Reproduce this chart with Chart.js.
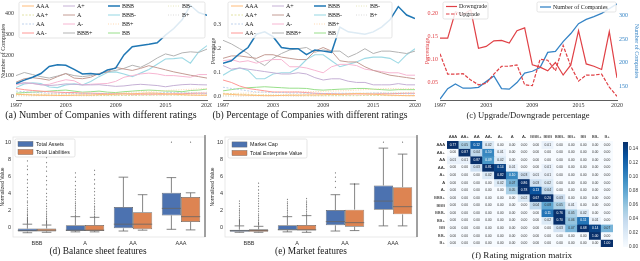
<!DOCTYPE html>
<html>
<head>
<meta charset="utf-8">
<script src="https://cdn.jsdelivr.net/npm/chart.js@4.4.1/dist/chart.umd.min.js"></script>
<style>
  body { margin: 0; width: 640px; height: 261px; position: relative; overflow: hidden; background: #fff; }
  canvas { position: absolute; }
  .cap { position: absolute; transform: translateX(-50%); white-space: nowrap; font-family: 'Liberation Serif', serif; color: #1a1a1a; line-height: 1; }
</style>
</head>
<body>
<canvas id="chartA" width="212" height="110" style="left:0;top:0"></canvas>
<canvas id="chartB" width="212" height="110" style="left:210px;top:0"></canvas>
<canvas id="chartC" width="216" height="110" style="left:424px;top:0"></canvas>
<canvas id="chartD" width="212" height="116" style="left:0;top:132px"></canvas>
<canvas id="chartE" width="212" height="116" style="left:210px;top:132px"></canvas>
<canvas id="chartF" width="192" height="122" style="left:428px;top:128px"></canvas>
<canvas id="chartG" width="22" height="122" style="left:618px;top:128px"></canvas>
<div class="cap" style="left:101px;top:110px;font-size:10px">(a) Number of Companies with different ratings</div>
<div class="cap" style="left:310px;top:110px;font-size:9.6px">(b) Percentage of Companies with different ratings</div>
<div class="cap" style="left:528px;top:110.5px;font-size:8.6px">(c) Upgrade/Downgrade percentage</div>
<div class="cap" style="left:98px;top:247px;font-size:9.4px">(d) Balance sheet features</div>
<div class="cap" style="left:311px;top:247px;font-size:9.4px">(e) Market features</div>
<div class="cap" style="left:522px;top:251px;font-size:9.2px">(f) Rating migration matrix</div>
<script>
// ---- data ----
const years = [1997,1998,1999,2000,2001,2002,2003,2004,2005,2006,2007,2008,2009,2010,2011,2012,2013,2014,2015,2016,2017,2018,2019,2020];
const tickYears = [1997,2003,2009,2015,2020];
const ratings = ['AAA','AA+','AA','AA-','A+','A','A-','BBB+','BBB','BBB-','BB+','BB','BB-','B+'];

// (a) number of companies per rating
const cntAAA  = [10,8,6,5,5,4,4,5,6,6,8,8,10,12,12,14,16,15,12,10,8,6,5,5];
const cntAAp  = [12,10,8,8,6,6,5,5,5,4,4,4,4,4,4,5,5,6,6,6,5,5,5,5];
const cntAA   = [25,22,20,18,15,15,14,14,12,12,12,12,12,14,14,15,15,16,18,18,17,16,15,14];
const cntAAm  = [38,32,28,25,22,20,18,18,15,15,14,12,12,12,10,10,10,10,10,12,12,14,15,15];
const cntAp   = [60,65,62,56,52,55,60,58,55,55,56,52,48,50,55,58,55,52,46,52,56,58,56,55];
const cntA    = [68,85,90,85,78,95,110,88,85,92,110,118,140,132,125,135,148,138,128,118,110,102,95,88];
const cntAm   = [55,65,62,55,58,70,80,75,55,58,60,62,72,92,100,108,112,108,100,100,96,92,105,105];
const cntBBBp = [100,115,105,95,88,98,110,100,95,100,110,118,125,135,150,140,160,185,205,195,210,215,212,228];
const cntBBB  = [62,78,92,110,144,152,150,130,108,110,105,127,136,200,240,246,252,259,296,328,370,440,405,392];
const cntBBBm = [42,60,65,62,45,42,55,60,55,72,95,115,118,108,95,112,130,155,180,182,186,160,215,245];
const cntBBp  = [8,10,10,12,12,15,15,14,12,12,14,15,15,18,20,22,24,25,28,30,32,34,36,38];
const cntBB   = [15,18,20,22,25,28,30,25,20,22,25,20,18,22,25,28,30,28,25,25,22,28,30,35];
const cntBBm  = [5,5,6,6,6,8,8,8,6,6,8,8,8,10,10,12,12,14,15,16,16,18,18,20];
const cntBp   = [2,2,2,3,3,3,3,3,2,2,3,3,3,4,4,5,5,6,6,6,7,7,8,8];

// (b) percentage of companies per rating
const pctAAA  = [0.012,0.010,0.008,0.007,0.006,0.005,0.005,0.006,0.007,0.007,0.008,0.008,0.009,0.010,0.010,0.012,0.014,0.013,0.011,0.009,0.007,0.006,0.005,0.005];
const pctAAp  = [0.015,0.013,0.011,0.010,0.008,0.007,0.006,0.006,0.006,0.005,0.005,0.005,0.005,0.005,0.005,0.005,0.005,0.006,0.006,0.006,0.005,0.005,0.005,0.005];
const pctAA   = [0.040,0.035,0.030,0.025,0.020,0.020,0.018,0.018,0.016,0.016,0.015,0.015,0.014,0.015,0.015,0.015,0.015,0.015,0.016,0.016,0.015,0.015,0.014,0.013];
const pctAAm  = [0.070,0.060,0.045,0.035,0.030,0.025,0.020,0.020,0.020,0.020,0.018,0.015,0.014,0.013,0.012,0.012,0.012,0.012,0.012,0.013,0.013,0.014,0.015,0.015];
const pctAp   = [0.130,0.115,0.120,0.115,0.110,0.105,0.100,0.095,0.095,0.100,0.095,0.080,0.070,0.075,0.075,0.065,0.060,0.060,0.050,0.050,0.050,0.055,0.050,0.050];
const pctA    = [0.160,0.170,0.170,0.165,0.160,0.175,0.175,0.165,0.160,0.155,0.155,0.190,0.205,0.190,0.150,0.145,0.145,0.125,0.110,0.100,0.090,0.085,0.080,0.075];
const pctAm   = [0.150,0.155,0.145,0.150,0.140,0.150,0.155,0.155,0.125,0.125,0.120,0.110,0.100,0.125,0.135,0.135,0.130,0.115,0.110,0.105,0.100,0.100,0.090,0.090];
const pctBBBp = [0.235,0.220,0.200,0.180,0.150,0.130,0.160,0.180,0.195,0.200,0.205,0.185,0.195,0.190,0.190,0.165,0.180,0.200,0.180,0.190,0.190,0.185,0.180,0.190];
const pctBBB  = [0.140,0.150,0.180,0.205,0.260,0.270,0.250,0.205,0.200,0.200,0.175,0.195,0.190,0.185,0.290,0.270,0.265,0.260,0.270,0.290,0.320,0.375,0.340,0.325];
const pctBBBm = [0.090,0.110,0.120,0.110,0.075,0.075,0.095,0.100,0.100,0.120,0.155,0.175,0.175,0.150,0.125,0.135,0.145,0.160,0.165,0.165,0.160,0.140,0.175,0.200];
const pctBBp  = [0.012,0.014,0.015,0.016,0.018,0.020,0.020,0.020,0.020,0.022,0.022,0.022,0.023,0.024,0.025,0.026,0.028,0.030,0.032,0.034,0.035,0.034,0.034,0.035];
const pctBB   = [0.025,0.030,0.035,0.038,0.040,0.042,0.040,0.038,0.036,0.036,0.035,0.030,0.028,0.030,0.032,0.033,0.035,0.035,0.032,0.030,0.028,0.030,0.030,0.030];
const pctBBm  = [0.006,0.007,0.008,0.008,0.008,0.010,0.010,0.010,0.010,0.010,0.012,0.012,0.012,0.013,0.013,0.014,0.015,0.015,0.016,0.017,0.017,0.018,0.018,0.020];
const pctBp   = [0.003,0.003,0.003,0.004,0.004,0.004,0.004,0.004,0.003,0.003,0.004,0.004,0.004,0.005,0.005,0.006,0.006,0.006,0.007,0.007,0.007,0.008,0.008,0.008];

const countSeries = [cntAAA,cntAAp,cntAA,cntAAm,cntAp,cntA,cntAm,cntBBBp,cntBBB,cntBBBm,cntBBp,cntBB,cntBBm,cntBp];
const pctSeries = [pctAAA,pctAAp,pctAA,pctAAm,pctAp,pctA,pctAm,pctBBBp,pctBBB,pctBBBm,pctBBp,pctBB,pctBBm,pctBp];

// (c) upgrade / downgrade
const downgrade = [0.146,0.146,0.203,0.197,0.207,0.124,0.128,0.140,0.141,0.135,0.162,0.168,0.088,0.083,0.075,0.093,0.066,0.088,0.162,0.090,0.085,0.078,0.160,0.060];
const upgrade   = [0.112,0.068,0.068,0.069,0.055,0.045,0.048,0.068,0.085,0.085,0.088,0.045,0.043,0.100,0.098,0.075,0.130,0.085,0.053,0.066,0.066,0.068,0.040,0.020];
const nCompanies = [123,145,155,146,146,148,160,172,145,144,158,178,182,190,222,224,245,262,283,292,298,305,315,325];

// (d)/(e) box plots: quartiles, medians, whiskers, fliers
const boxCats = ['BBB','A','AA','AAA'];
const assetsQ1 = [-0.47,-0.39,-0.08,1.43];
const assetsQ3 = [-0.12,0.27,2.40,4.07];
const assetsMed = [-0.35,-0.30,0.40,2.25];
const assetsLo = [-0.60,-0.50,-0.40,-0.20];
const assetsHi = [0.40,1.28,5.90,5.85];
const assetsOut = [[0.5,0.6,0.7,0.8,0.9,1.0,1.1,1.2,1.4,1.5,1.7,1.9,2.1,2.3,2.6,2.9,3.1,3.5,3.9,4.3,4.7,5.2,5.6,6.2,6.8,7.2,7.8],
                   [1.4,1.6,1.8,2.0,2.2,2.4,2.6,2.8,3.0,3.3,3.6,3.9,4.2,4.5,4.9,5.4,5.9,6.4], [], [10.0]];
const liabQ1 = [-0.45,-0.40,-0.20,0.66];
const liabQ3 = [-0.10,0.30,1.80,3.57];
const liabMed = [-0.30,-0.30,0.40,1.28];
const liabLo = [-0.55,-0.50,-0.30,-0.27];
const liabHi = [0.30,1.20,3.85,4.07];
const liabOut = [[0.4,0.5,0.6,0.7,0.8,1.0,1.1,1.3,1.5,1.7,1.9,2.2,2.5,2.8,3.2,3.6,4.0,4.5,5.0,5.5,6.0,6.6,7.1,7.6,8.2],
                 [1.3,1.5,1.7,1.9,2.1,2.3,2.5,2.8,3.1,3.4,3.8,4.2,4.6,5.1,5.6,6.2,6.7], [], [10.0]];
const mcapQ1 = [-0.50,-0.30,0.27,2.09];
const mcapQ3 = [-0.25,0.27,2.05,4.93];
const mcapMed = [-0.35,-0.25,0.70,3.10];
const mcapLo = [-0.55,-0.50,-0.40,0.20];
const mcapHi = [0.20,1.28,3.85,9.30];
const mcapOut = [[0.3,0.4,0.5,0.6,0.7,0.8,0.9,1.0,1.2,1.4,1.6,1.8,2.0,2.2,2.5,2.8,3.1],
                 [1.4,1.6,1.8,2.0,2.2,2.4,2.6,2.8,3.0,3.3], [4.7,5.4,5.9,6.4], [10.0]];
const tevQ1 = [-0.50,-0.35,0.10,1.55];
const tevQ3 = [-0.20,0.30,2.10,4.73];
const tevMed = [-0.35,-0.25,0.58,2.45];
const tevLo = [-0.55,-0.55,-0.35,0.20];
const tevHi = [0.15,1.40,5.10,8.60];
const tevOut = [[0.3,0.4,0.5,0.6,0.8,1.0,1.2,1.4,1.6,1.9,2.2,2.5,2.8,3.1,3.4,3.7,4.0,4.4,4.8,5.2],
                [1.5,1.7,1.9,2.1,2.3,2.5,2.7,2.9,3.1,3.4], [5.1], [10.0]];

// (f) rating migration matrix (rows: from, cols: to)
const migration = [
  [0.77,0.05,0.12,0.02,0.00,0.00,0.00,0.00,0.01,0.00,0.00,0.00,0.00,0.00],
  [0.00,0.87,0.04,0.10,0.01,0.00,0.00,0.00,0.00,0.00,0.00,0.00,0.00,0.00],
  [0.01,0.01,0.87,0.09,0.02,0.00,0.00,0.00,0.00,0.00,0.00,0.00,0.00,0.00],
  [0.00,0.00,0.03,0.81,0.14,0.01,0.00,0.00,0.01,0.00,0.00,0.00,0.00,0.00],
  [0.00,0.00,0.00,0.02,0.82,0.10,0.03,0.01,0.01,0.00,0.00,0.00,0.00,0.00],
  [0.00,0.00,0.00,0.00,0.02,0.07,0.86,0.03,0.02,0.00,0.00,0.00,0.00,0.00],
  [0.00,0.00,0.00,0.00,0.00,0.05,0.78,0.13,0.04,0.00,0.00,0.00,0.00,0.00],
  [0.00,0.00,0.00,0.00,0.00,0.00,0.02,0.67,0.20,0.03,0.00,0.00,0.00,0.00],
  [0.00,0.00,0.00,0.00,0.00,0.00,0.00,0.04,0.08,0.05,0.01,0.00,0.00,0.00],
  [0.00,0.00,0.00,0.00,0.00,0.00,0.00,0.00,0.11,0.76,0.05,0.02,0.00,0.00],
  [0.00,0.00,0.00,0.00,0.00,0.00,0.00,0.00,0.02,0.70,0.06,0.11,0.01,0.00],
  [0.00,0.00,0.00,0.00,0.00,0.00,0.00,0.00,0.00,0.03,0.07,0.68,0.14,0.07],
  [0.00,0.00,0.00,0.00,0.00,0.00,0.00,0.00,0.00,0.00,0.00,0.00,1.00,0.00],
  [0.00,0.00,0.00,0.00,0.00,0.00,0.00,0.00,0.00,0.00,0.00,0.00,0.00,1.00]
];
const cbMax = 0.15;
const cbTicks = [0,0.02,0.04,0.06,0.08,0.10,0.12,0.14];

// ---- styles ----
const SERIF = "'Liberation Serif', serif";
const SANS = "'Liberation Sans', 'DejaVu Sans', sans-serif";
const lineColors = ['#ffbb78','#dbdb8d','#aec7e8','#ff9896','#c5b0d5','#c49c94','#f7b6d2','#b3b3b3','#1f77b4','#9edae5','#ffcf9e','#98df8a','#e0e0a8','#d0d0d0'];
const lineWidths = [1,0.8,0.8,1,1,1,1,1,1.5,1.1,0.8,1,0.8,0.8];
const lineDashes = [[],[2,1.5],[2,1.5],[],[],[],[],[],[],[],[1,1.5],[],[1,1.5],[1,1.5]];
const red = '#e04146';
const blue = '#3584c6';
const blueStops = ['#f7fbff','#deebf7','#c6dbef','#9ecae1','#6baed6','#4292c6','#2171b5','#08519c','#08306b'];

Chart.defaults.font.family = SERIF;
Chart.defaults.font.size = 6;
Chart.defaults.color = '#333';
Chart.defaults.animation = false;
Chart.defaults.responsive = false;
Chart.defaults.plugins.legend.display = false;
Chart.defaults.plugins.tooltip.enabled = false;
Chart.defaults.elements.point.radius = 0;

const noGrid = { display: false, drawTicks: false };
function fixW(w) { return s => { s.width = w; s.paddingTop = 0; s.paddingBottom = 0; }; }
function fixH(h) { return s => { s.height = h; s.paddingLeft = 0; s.paddingRight = 0; }; }
function setTicks(list) { return s => { s.ticks = list.map(v => ({ value: v })); }; }
function xy(vals) { return years.map((yr, i) => ({ x: yr, y: vals[i] })); }

function blues(t) {
  t = Math.max(0, Math.min(1, t));
  const p = t * 8, i = Math.min(7, Math.floor(p)), f = p - i;
  const a = blueStops[i], b = blueStops[i + 1];
  const ch = k => Math.round(parseInt(a.substr(k, 2), 16) * (1 - f) + parseInt(b.substr(k, 2), 16) * f);
  return 'rgb(' + ch(1) + ',' + ch(3) + ',' + ch(5) + ')';
}

// legend drawn inside the plot, items placed by hand like matplotlib's ncol legend
const boxLegend = {
  id: 'boxLegend',
  afterDraw(chart, args, o) {
    const ctx = chart.ctx;
    ctx.save();
    (o.boxes || []).forEach(b => {
      ctx.fillStyle = 'rgba(255,255,255,0.85)';
      ctx.strokeStyle = '#d5d5d5';
      ctx.lineWidth = 0.6;
      ctx.beginPath();
      ctx.roundRect(b[0], b[1], b[2], b[3], 1.5);
      ctx.fill();
      ctx.stroke();
    });
    ctx.font = o.font;
    ctx.textBaseline = 'middle';
    (o.items || []).forEach(it => {
      const ds = chart.data.datasets[it.i];
      if (o.patch) {
        ctx.fillStyle = ds.backgroundColor;
        ctx.fillRect(it.x, it.y - 2.6, o.len, 5.2);
        ctx.strokeStyle = '#666';
        ctx.lineWidth = 0.4;
        ctx.strokeRect(it.x, it.y - 2.6, o.len, 5.2);
      } else {
        ctx.strokeStyle = ds.borderColor;
        ctx.lineWidth = ds.borderWidth;
        ctx.setLineDash(ds.borderDash || []);
        ctx.beginPath();
        ctx.moveTo(it.x, it.y);
        ctx.lineTo(it.x + o.len, it.y);
        ctx.stroke();
        ctx.setLineDash([]);
      }
      ctx.fillStyle = '#222';
      ctx.fillText(ds.label, it.x + o.len + o.gap, it.y + 0.3);
    });
    ctx.restore();
  }
};

// whiskers, medians and fliers on top of the floating-bar boxes
const boxExtras = {
  id: 'boxExtras',
  afterDatasetsDraw(chart) {
    const ctx = chart.ctx, ys = chart.scales.y;
    ctx.save();
    chart.data.datasets.forEach((ds, d) => {
      chart.getDatasetMeta(d).data.forEach((bar, j) => {
        const half = bar.width / 2, x = bar.x;
        const q1 = ys.getPixelForValue(ds.data[j][0]), q3 = ys.getPixelForValue(ds.data[j][1]);
        const lo = ys.getPixelForValue(ds.lo[j]), hi = ys.getPixelForValue(ds.hi[j]);
        const md = ys.getPixelForValue(ds.med[j]);
        ctx.strokeStyle = '#666';
        ctx.lineWidth = 0.8;
        ctx.beginPath();
        ctx.moveTo(x - half, md); ctx.lineTo(x + half, md);
        ctx.moveTo(x, q3); ctx.lineTo(x, hi);
        ctx.moveTo(x, q1); ctx.lineTo(x, lo);
        ctx.moveTo(x - half / 2, hi); ctx.lineTo(x + half / 2, hi);
        ctx.moveTo(x - half / 2, lo); ctx.lineTo(x + half / 2, lo);
        ctx.stroke();
        ctx.fillStyle = 'rgba(70,70,70,0.8)';
        ds.out[j].forEach(v => {
          const py = ys.getPixelForValue(v);
          ctx.beginPath();
          ctx.moveTo(x, py - 0.9); ctx.lineTo(x + 0.6, py); ctx.lineTo(x, py + 0.9); ctx.lineTo(x - 0.6, py);
          ctx.fill();
        });
      });
    });
    ctx.restore();
  }
};

const frame = {
  id: 'frame',
  beforeDatasetsDraw(chart) {
    const { left, top, right, bottom } = chart.chartArea, ctx = chart.ctx;
    ctx.save();
    ctx.strokeStyle = '#e3e3e3';
    ctx.lineWidth = 0.8;
    ctx.strokeRect(left, top, right - left, bottom - top);
    ctx.restore();
  },
  afterDraw(chart) {
    const { top, right, bottom } = chart.chartArea, ctx = chart.ctx;
    ctx.save();
    ctx.strokeStyle = '#3a3a3a';
    ctx.lineWidth = 0.9;
    ctx.beginPath();
    ctx.moveTo(right, top - 2);
    ctx.lineTo(right, bottom);
    ctx.stroke();
    ctx.restore();
  }
};

const cellText = {
  id: 'cellText',
  afterDatasetsDraw(chart) {
    const ctx = chart.ctx;
    ctx.save();
    ctx.font = '3.3px ' + SANS;
    ctx.textAlign = 'center';
    ctx.textBaseline = 'middle';
    chart.data.datasets.forEach((ds, r) => {
      chart.getDatasetMeta(r).data.forEach((cell, c) => {
        const v = ds.values[c];
        ctx.fillStyle = v / cbMax > 0.55 ? '#fff' : '#333';
        ctx.fillText(v.toFixed(2), cell.x, (cell.y + cell.base) / 2);
      });
    });
    ctx.restore();
  }
};

function ratingLines(series) {
  return ratings.map((r, i) => ({
    label: r,
    data: xy(series[i]),
    borderColor: lineColors[i],
    borderWidth: lineWidths[i],
    borderDash: lineDashes[i],
    order: r === 'BBB' ? 0 : 1
  }));
}

function yearAxis(h) {
  return {
    type: 'linear', min: 1997, max: 2020,
    afterBuildTicks: setTicks(tickYears), afterFit: fixH(h),
    grid: noGrid, border: { color: '#333', width: 0.8 },
    ticks: { callback: v => String(v), padding: 2, maxRotation: 0, autoSkip: false }
  };
}

// (a)
const legA = [22, 63, 108, 168];
const legRows = [6, 15, 24, 33];
new Chart(document.getElementById('chartA'), {
  type: 'line',
  data: { datasets: ratingLines(countSeries) },
  options: {
    layout: { padding: { top: 2, right: 5 } },
    scales: {
      x: yearAxis(10),
      y: {
        min: -18, max: 456, afterBuildTicks: setTicks([0, 100, 200, 300, 400]), afterFit: fixW(16),
        grid: noGrid, border: { display: false }, ticks: { padding: 2, autoSkip: false },
        title: { display: true, text: 'Number of Companies', padding: 0 }
      }
    },
    plugins: {
      boxLegend: {
        boxes: [[19, 2, 186, 36]], font: '6px ' + SERIF, len: 12, gap: 2,
        items: ratings.map((r, i) => ({ i, x: legA[Math.floor(i / 4)], y: legRows[i % 4] }))
      }
    }
  },
  plugins: [boxLegend]
});

// (b)
const legB = [21, 62, 104, 146];
new Chart(document.getElementById('chartB'), {
  type: 'line',
  data: { datasets: ratingLines(pctSeries) },
  options: {
    layout: { padding: { top: 2, right: 7 } },
    scales: {
      x: yearAxis(10),
      y: {
        min: -0.013, max: 0.394, afterBuildTicks: setTicks([0, 0.1, 0.2, 0.3]), afterFit: fixW(13),
        grid: noGrid, border: { display: false }, ticks: { padding: 2, autoSkip: false, callback: v => v.toFixed(1) },
        title: { display: true, text: 'Percentage', padding: 0 }
      }
    },
    plugins: {
      boxLegend: {
        boxes: [[18, 2, 164, 36]], font: '6px ' + SERIF, len: 12, gap: 2,
        items: ratings.map((r, i) => ({ i, x: legB[Math.floor(i / 4)], y: legRows[i % 4] }))
      }
    }
  },
  plugins: [boxLegend]
});

// (c)
new Chart(document.getElementById('chartC'), {
  type: 'line',
  data: {
    datasets: [
      { label: 'Downgrade', data: xy(downgrade), borderColor: red, borderWidth: 1.2, yAxisID: 'y' },
      { label: 'Upgrade', data: xy(upgrade), borderColor: red, borderWidth: 1.2, borderDash: [3.5, 1.5], yAxisID: 'y' },
      { label: 'Number of Companies', data: xy(nCompanies), borderColor: blue, borderWidth: 1.3, yAxisID: 'y1' }
    ]
  },
  options: {
    layout: { padding: { top: 2 } },
    scales: {
      x: yearAxis(10),
      y: {
        position: 'left', min: 0.012, max: 0.224, afterBuildTicks: setTicks([0.05, 0.10, 0.15, 0.20]), afterFit: fixW(16),
        grid: noGrid, border: { display: false },
        ticks: { padding: 2, autoSkip: false, color: red, callback: v => v.toFixed(2) },
        title: { display: true, text: 'Percentage', padding: 0, color: red }
      },
      y1: {
        position: 'right', min: 121, max: 329, afterBuildTicks: setTicks([150, 200, 250, 300]), afterFit: fixW(23),
        grid: noGrid, border: { display: false },
        ticks: { padding: 2, autoSkip: false, color: blue, callback: v => String(v) },
        title: { display: true, text: 'Number of Companies', padding: 0, color: blue }
      }
    },
    plugins: {
      boxLegend: {
        boxes: [[19, 2, 45, 17], [113, 2, 79, 10]], font: '6px ' + SERIF, len: 11, gap: 2,
        items: [{ i: 0, x: 22, y: 6.5 }, { i: 1, x: 22, y: 14 }, { i: 2, x: 116, y: 7 }]
      }
    }
  },
  plugins: [boxLegend]
});

// (d), (e)
function boxChart(id, leftW, rightPad, sets, legend) {
  return new Chart(document.getElementById(id), {
    type: 'bar',
    data: {
      labels: boxCats,
      datasets: sets.map(s => ({
        label: s.label,
        data: boxCats.map((c, i) => [s.q1[i], s.q3[i]]),
        med: s.med, lo: s.lo, hi: s.hi, out: s.out,
        backgroundColor: s.color, borderColor: '#666', borderWidth: 0.7, borderSkipped: false
      }))
    },
    options: {
      layout: { padding: { top: 5, right: rightPad } },
      datasets: { bar: { categoryPercentage: 0.8, barPercentage: 1 } },
      scales: {
        x: {
          afterFit: fixH(11), grid: noGrid, border: { display: false },
          ticks: { font: { family: SANS, size: 5.5 }, padding: 3, color: '#333', autoSkip: false }
        },
        y: {
          min: -1.1, max: 10.6, afterBuildTicks: setTicks([0, 2, 4, 6, 8, 10]), afterFit: fixW(leftW),
          grid: noGrid, border: { display: false },
          ticks: { font: { family: SANS, size: 5.5 }, padding: 2, autoSkip: false, callback: v => String(v) },
          title: { display: true, text: 'Normalized Value', padding: 0, font: { family: SANS, size: 5 } }
        }
      },
      plugins: { boxLegend: legend }
    },
    plugins: [frame, boxExtras, boxLegend]
  });
}

boxChart('chartD', 13, 7, [
  { label: 'Total Assets', q1: assetsQ1, q3: assetsQ3, med: assetsMed, lo: assetsLo, hi: assetsHi, out: assetsOut, color: '#4c72b0' },
  { label: 'Total Liabilities', q1: liabQ1, q3: liabQ3, med: liabMed, lo: liabLo, hi: liabHi, out: liabOut, color: '#dd8452' }
], { boxes: [[15, 7, 60, 18]], patch: true, font: '5.2px ' + SANS, len: 15, gap: 3,
     items: [{ i: 0, x: 18, y: 12 }, { i: 1, x: 18, y: 20 }] });

boxChart('chartE', 15, 5, [
  { label: 'Market Cap', q1: mcapQ1, q3: mcapQ3, med: mcapMed, lo: mcapLo, hi: mcapHi, out: mcapOut, color: '#4c72b0' },
  { label: 'Total Enterprise Value', q1: tevQ1, q3: tevQ3, med: tevMed, lo: tevLo, hi: tevHi, out: tevOut, color: '#dd8452' }
], { boxes: [[18, 7, 79, 19]], patch: true, font: '5.4px ' + SANS, len: 15, gap: 3,
     items: [{ i: 0, x: 22, y: 12.5 }, { i: 1, x: 22, y: 21 }] });

// (f) heatmap as overlapping floating bars, one dataset per row
new Chart(document.getElementById('chartF'), {
  type: 'bar',
  data: {
    labels: ratings,
    datasets: ratings.map((r, ri) => ({
      label: r,
      data: ratings.map(() => [ri, ri + 1]),
      values: migration[ri],
      backgroundColor: migration[ri].map(v => blues(v / cbMax)),
      borderWidth: 0, grouped: false, barPercentage: 1, categoryPercentage: 1
    }))
  },
  options: {
    layout: { padding: { bottom: 3, right: 7 } },
    scales: {
      x: {
        position: 'top', afterFit: fixH(13), grid: noGrid, border: { display: false },
        ticks: { font: { family: SANS, size: 4.3 }, padding: 2, maxRotation: 0, autoSkip: false, color: '#222' }
      },
      y: {
        min: 0, max: 14, reverse: true, afterFit: fixW(19),
        afterBuildTicks: setTicks(ratings.map((r, i) => i + 0.5)),
        grid: noGrid, border: { display: false },
        ticks: { font: { family: SANS, size: 4.3 }, padding: 2, autoSkip: false, color: '#222', callback: v => ratings[Math.floor(v)] }
      }
    }
  },
  plugins: [cellText]
});

// colour bar
new Chart(document.getElementById('chartG'), {
  type: 'bar',
  data: {
    labels: [''],
    datasets: [{
      data: [[0, cbMax]], borderWidth: 0, barPercentage: 1, categoryPercentage: 1,
      backgroundColor: ctx => {
        const area = ctx.chart.chartArea;
        if (!area) return blueStops[4];
        const g = ctx.chart.ctx.createLinearGradient(0, area.bottom, 0, area.top);
        blueStops.forEach((c, i) => g.addColorStop(i / 8, c));
        return g;
      }
    }]
  },
  options: {
    layout: { padding: { left: 5, top: 14, bottom: 3 } },
    scales: {
      x: { display: false },
      y: {
        position: 'right', min: 0, max: cbMax, afterBuildTicks: setTicks(cbTicks), afterFit: fixW(12),
        grid: noGrid, border: { display: false },
        ticks: { font: { family: SANS, size: 4.6 }, padding: 1, autoSkip: false, color: '#333', callback: v => v.toFixed(2) }
      }
    }
  }
});
</script>
</body>
</html>
